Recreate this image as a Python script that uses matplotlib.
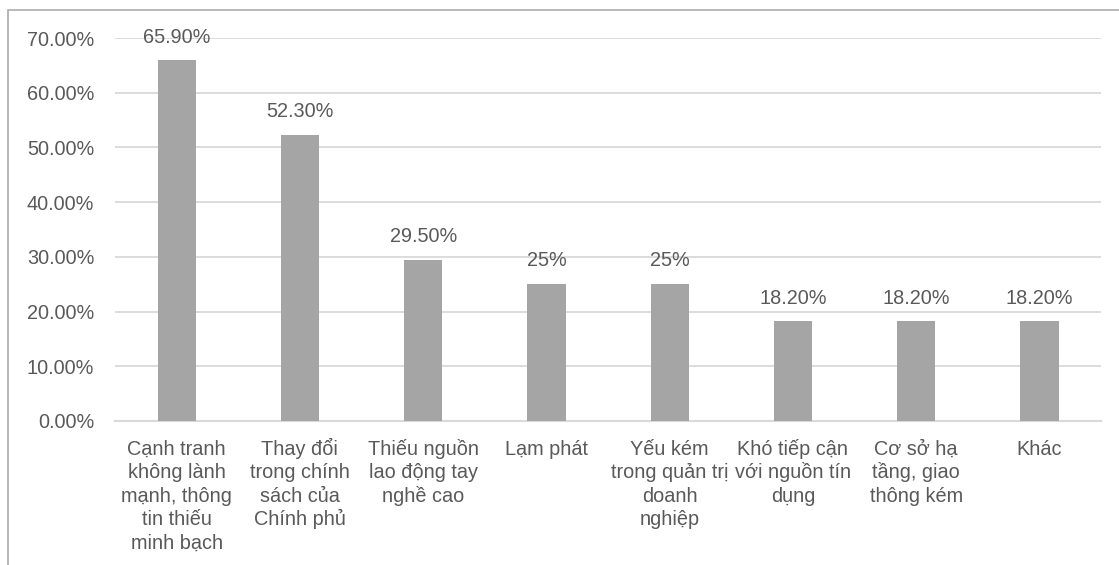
import matplotlib
matplotlib.use("Agg")
import matplotlib.pyplot as plt
from matplotlib.patches import Rectangle
from matplotlib.ticker import FuncFormatter, MultipleLocator

plt.rcParams['font.family'] = ['Liberation Sans', 'DejaVu Sans']

categories = [
    "Cạnh tranh\nkhông lành\nmạnh, thông\ntin thiếu\nminh bạch",
    "Thay đổi\ntrong chính\nsách của\nChính phủ",
    "Thiếu nguồn\nlao động tay\nnghề cao",
    "Lạm phát",
    "Yếu kém\ntrong quản trị\ndoanh\nnghiệp",
    "Khó tiếp cận\nvới nguồn tín\ndụng",
    "Cơ sở hạ\ntầng, giao\nthông kém",
    "Khác",
]
values = [0.659, 0.523, 0.295, 0.25, 0.25, 0.182, 0.182, 0.182]
value_labels = ["65.90%", "52.30%", "29.50%", "25%", "25%", "18.20%", "18.20%", "18.20%"]

text_color = "#595959"
bar_color = "#A5A5A5"
grid_color = "#D9D9D9"

fig = plt.figure(figsize=(11.19, 5.65), dpi=100)
ax = fig.add_axes([0.1028, 0.2549, 0.984 - 0.1028, 0.9327 - 0.2549])

x = range(len(categories))
bars = ax.bar(x, values, width=0.31, color=bar_color, zorder=3)

for b, lab in zip(bars, value_labels):
    ax.annotate(lab, (b.get_x() + b.get_width() / 2, b.get_height()),
                xytext=(0, 10), textcoords="offset points",
                ha="center", va="bottom", fontsize=14.3, color=text_color)

ax.set_xlim(-0.5, len(categories) - 0.5)
ax.set_ylim(0, 0.7)
ax.yaxis.set_major_locator(MultipleLocator(0.1))
ax.yaxis.set_major_formatter(FuncFormatter(lambda v, p: f"{v * 100:.2f}%"))
ax.grid(axis="y", color=grid_color, linewidth=1.3, zorder=0)

# category labels: one line at a time so every first line shares a baseline
ax.set_xticks(list(x))
ax.set_xticklabels([])
for i, cat in zip(x, categories):
    for j, line in enumerate(cat.split("\n")):
        ax.annotate(line, (i, 0), xycoords=ax.get_xaxis_transform(),
                    xytext=(0, -34 - 23.5 * j), textcoords="offset pixels",
                    ha="center", va="baseline", fontsize=14.3, color=text_color,
                    annotation_clip=False)
ax.tick_params(axis="x", length=0)
ax.tick_params(axis="y", length=0, pad=15, labelsize=14.3, labelcolor=text_color)

for s in ["top", "right", "left"]:
    ax.spines[s].set_visible(False)
ax.spines["bottom"].set_color(grid_color)
ax.spines["bottom"].set_linewidth(1.5)

# outer chart border (cropped on the right and bottom)
fig.patches.append(Rectangle((8 / 1119, -0.1), 1.2, 1.1 - 10 / 565,
                             transform=fig.transFigure, fill=False,
                             edgecolor="#ABABAB", linewidth=1.2))

fig.savefig("out.png", dpi=100)
